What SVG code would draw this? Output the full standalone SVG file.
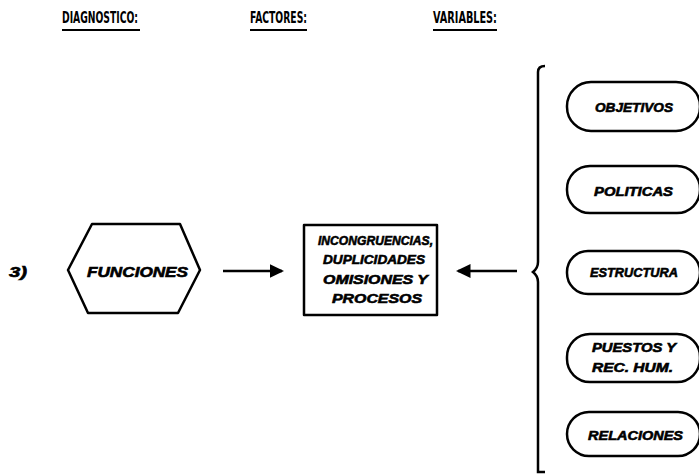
<svg xmlns="http://www.w3.org/2000/svg" width="699" height="474" viewBox="0 0 699 474">
<style>
.hdr{font-family:"DejaVu Sans Condensed","DejaVu Sans",sans-serif;font-weight:bold;font-size:16px;fill:#000}
.ul{stroke:#000;stroke-width:2}
.shape{fill:#fff;stroke:#000;stroke-width:2.5;stroke-linejoin:round}
.lbl{font-family:"Liberation Sans",Arial,sans-serif;font-weight:bold;font-style:italic;font-size:14px;fill:#000;stroke:#000;stroke-width:0.6}
.sm{font-size:13px}
.conn{stroke:#000;stroke-width:2.5;fill:none}
</style>
<defs>
<marker id="ah" markerWidth="6" markerHeight="6" refX="5" refY="3" orient="auto" markerUnits="strokeWidth"><path d="M0,0.2 L5.8,3 L0,5.8 Z" fill="#000"/></marker>
</defs>
<g id="headers">
<text class="hdr" x="62" y="23" textLength="76" lengthAdjust="spacingAndGlyphs">DIAGNOSTICO:</text>
<line class="ul" x1="62" y1="30" x2="140" y2="30"/>
<text class="hdr" x="250" y="23" textLength="57" lengthAdjust="spacingAndGlyphs">FACTORES:</text>
<line class="ul" x1="250" y1="30" x2="307" y2="30"/>
<text class="hdr" x="433" y="23" textLength="64" lengthAdjust="spacingAndGlyphs">VARIABLES:</text>
<line class="ul" x1="433" y1="30" x2="497" y2="30"/>
</g>
<g id="label-3">
<text class="lbl" x="9" y="277" textLength="18" lengthAdjust="spacingAndGlyphs">3)</text>
</g>
<g id="funciones">
<polygon class="shape" points="92,224 180,224 200,270 178,313 88,313 68,270"/>
<text class="lbl" x="87" y="277" textLength="101" lengthAdjust="spacingAndGlyphs">FUNCIONES</text>
</g>
<g id="factores">
<rect class="shape" x="304" y="225" width="133" height="90"/>
<text class="lbl sm" x="318" y="245" textLength="115" lengthAdjust="spacingAndGlyphs">INCONGRUENCIAS,</text>
<text class="lbl sm" x="323" y="264" textLength="102" lengthAdjust="spacingAndGlyphs">DUPLICIDADES</text>
<text class="lbl sm" x="323" y="284" textLength="105" lengthAdjust="spacingAndGlyphs">OMISIONES  Y</text>
<text class="lbl sm" x="332" y="303" textLength="90" lengthAdjust="spacingAndGlyphs">PROCESOS</text>
</g>
<g id="brace">
<path class="conn" d="M545,66 Q538,66 538,72 L538,262 Q538,268 533,272 Q538,276 538,282 L538,472 L545,472"/>
</g>
<g id="objetivos">
<rect class="shape" x="567" y="82" width="133" height="49" rx="24"/>
<text class="lbl sm" x="595" y="112" textLength="78" lengthAdjust="spacingAndGlyphs">OBJETIVOS</text>
</g>
<g id="politicas">
<rect class="shape" x="567" y="166" width="133" height="47" rx="23"/>
<text class="lbl sm" x="594" y="196" textLength="79" lengthAdjust="spacingAndGlyphs">POLITICAS</text>
</g>
<g id="estructura">
<rect class="shape" x="567" y="251" width="133" height="43" rx="21"/>
<text class="lbl sm" x="590" y="277" textLength="88" lengthAdjust="spacingAndGlyphs">ESTRUCTURA</text>
</g>
<g id="puestos">
<rect class="shape" x="567" y="334" width="133" height="48" rx="23"/>
<text class="lbl sm" x="592" y="352" textLength="84" lengthAdjust="spacingAndGlyphs">PUESTOS  Y</text>
<text class="lbl sm" x="592" y="372" textLength="81" lengthAdjust="spacingAndGlyphs">REC.  HUM.</text>
</g>
<g id="relaciones">
<rect class="shape" x="567" y="412" width="133" height="44" rx="22"/>
<text class="lbl sm" x="588" y="440" textLength="95" lengthAdjust="spacingAndGlyphs">RELACIONES</text>
</g>
<g id="connectors">
<line class="conn" x1="223" y1="271" x2="282" y2="271" marker-end="url(#ah)"/>
<line class="conn" x1="517" y1="271" x2="458" y2="271" marker-end="url(#ah)"/>
</g>
</svg>
